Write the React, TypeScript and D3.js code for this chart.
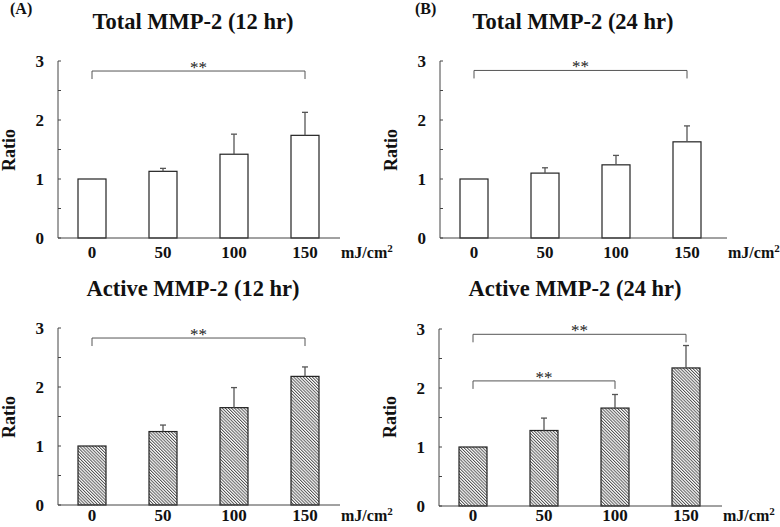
import React from "react";
import * as d3 from "d3";

const doses = ["0", "50", "100", "150"];
const yTicks = [0, 1, 2, 3];
const yMinorTicks = [0.5, 1.5, 2.5];

const totalMMP12 = [1.0, 1.13, 1.42, 1.74];
const totalMMP12Err = [0, 0.05, 0.34, 0.39];
const totalMMP24 = [1.0, 1.1, 1.24, 1.63];
const totalMMP24Err = [0, 0.09, 0.16, 0.27];
const activeMMP12 = [1.0, 1.245, 1.65, 2.18];
const activeMMP12Err = [0, 0.11, 0.34, 0.16];
const activeMMP24 = [1.0, 1.28, 1.66, 2.34];
const activeMMP24Err = [0, 0.21, 0.23, 0.38];

type Sig = { from: string; to: string; level: number; label: string };
const sigTotal12: Sig[] = [{ from: "0", to: "150", level: 2.83, label: "**" }];
const sigTotal24: Sig[] = [{ from: "0", to: "150", level: 2.84, label: "**" }];
const sigActive12: Sig[] = [{ from: "0", to: "150", level: 2.83, label: "**" }];
const sigActive24: Sig[] = [
  { from: "0", to: "150", level: 2.91, label: "**" },
  { from: "0", to: "100", level: 2.12, label: "**" },
];

const FONT = "'Liberation Serif', 'Times New Roman', serif";

type PanelProps = {
  title: string;
  titleX: number;
  titleY: number;
  axisX: number;
  xEnd: number;
  yTop: number;
  yBottom: number;
  values: number[];
  errors: number[];
  sigs: Sig[];
  hatched: boolean;
  ratioY: number;
  labelDy: number;
};

function Panel(p: PanelProps) {
  const y = d3.scaleLinear().domain([0, 3]).range([p.yBottom, p.yTop]);
  const x = d3
    .scalePoint<string>()
    .domain(doses)
    .range([p.axisX + 34, p.axisX + 247]);
  const bw = 28;
  const fill = p.hatched ? "url(#hatch)" : "#fff";
  return (
    <g>
      <text
        x={p.titleX}
        y={p.titleY}
        textAnchor="middle"
        fontFamily={FONT}
        fontWeight="bold"
        fontSize={22.5}
        fill="#111"
      >
        {p.title}
      </text>
      <text
        transform={`translate(${p.axisX - 43},${p.ratioY}) rotate(-90)`}
        textAnchor="middle"
        fontFamily={FONT}
        fontWeight="bold"
        fontSize={18}
        fill="#111"
      >
        Ratio
      </text>
      {/* y axis */}
      <line x1={p.axisX} x2={p.axisX} y1={y(3)} y2={y(0)} stroke="#444" strokeWidth={1} />
      {yTicks.concat(yMinorTicks).map((t) => (
        <line key={"t" + t} x1={p.axisX} x2={p.axisX + 3} y1={y(t)} y2={y(t)} stroke="#444" strokeWidth={1} />
      ))}
      {yTicks.map((t) => (
        <text
          key={"l" + t}
          x={p.axisX - 14}
          y={y(t) + 6}
          textAnchor="end"
          fontFamily={FONT}
          fontWeight="bold"
          fontSize={17}
          fill="#111"
        >
          {t}
        </text>
      ))}
      {/* bars */}
      {doses.map((d, i) => (
        <g key={d}>
          <rect
            x={(x(d) as number) - bw / 2}
            y={y(p.values[i])}
            width={bw}
            height={y(0) - y(p.values[i])}
            fill={fill}
            stroke="#222"
            strokeWidth={1.2}
          />
          {p.errors[i] > 0 && (
            <g stroke="#555" strokeWidth={1.3}>
              <line
                x1={x(d) as number}
                x2={x(d) as number}
                y1={y(p.values[i])}
                y2={y(p.values[i] + p.errors[i])}
              />
              <line
                x1={(x(d) as number) - 3}
                x2={(x(d) as number) + 3}
                y1={y(p.values[i] + p.errors[i])}
                y2={y(p.values[i] + p.errors[i])}
              />
            </g>
          )}
          <text
            x={x(d) as number}
            y={p.yBottom + p.labelDy}
            textAnchor="middle"
            fontFamily={FONT}
            fontWeight="bold"
            fontSize={17}
            fill="#111"
          >
            {d}
          </text>
        </g>
      ))}
      {/* x axis */}
      <line x1={p.axisX} x2={p.xEnd} y1={y(0)} y2={y(0)} stroke="#444" strokeWidth={1} />
      <text
        x={p.xEnd + 1}
        y={p.yBottom + p.labelDy}
        fontFamily={FONT}
        fontWeight="bold"
        fontSize={16}
        fill="#111"
      >
        mJ/cm
        <tspan dy={-6} fontSize={11}>
          2
        </tspan>
      </text>
      {/* significance */}
      {p.sigs.map((s, i) => {
        const x1 = x(s.from) as number;
        const x2 = x(s.to) as number;
        const yy = y(s.level);
        return (
          <g key={"s" + i}>
            <path
              d={`M${x1},${yy + 8}V${yy}H${x2}V${yy + 8}`}
              fill="none"
              stroke="#555"
              strokeWidth={1}
            />
            <text
              x={(x1 + x2) / 2}
              y={yy + 2}
              textAnchor="middle"
              fontFamily={FONT}
              fontSize={17}
              fill="#222"
            >
              {s.label}
            </text>
          </g>
        );
      })}
    </g>
  );
}

export default function App() {
  return (
    <svg
      width={780}
      height={527}
      style={{ position: "absolute", left: 0, top: 0, background: "#fff" }}
    >
      <defs>
        <pattern
          id="hatch"
          patternUnits="userSpaceOnUse"
          width={2.2}
          height={2.2}
          patternTransform="rotate(-45)"
        >
          <rect width={2.2} height={2.2} fill="#fff" />
          <line x1={0.5} x2={0.5} y1={0} y2={2.2} stroke="#444" strokeWidth={0.9} />
        </pattern>
      </defs>
      <rect width={780} height={527} fill="#fff" />
      <text x={10} y={14} fontFamily={FONT} fontWeight="bold" fontSize={16} fill="#111">
        (A)
      </text>
      <text x={415} y={14} fontFamily={FONT} fontWeight="bold" fontSize={16} fill="#111">
        (B)
      </text>
      <Panel
        title="Total MMP-2 (12 hr)"
        titleX={193}
        titleY={29}
        axisX={58}
        xEnd={340}
        yTop={61}
        yBottom={238}
        values={totalMMP12}
        errors={totalMMP12Err}
        sigs={sigTotal12}
        hatched={false}
        ratioY={150}
        labelDy={20}
      />
      <Panel
        title="Total MMP-2 (24 hr)"
        titleX={573}
        titleY={29}
        axisX={440}
        xEnd={727}
        yTop={61}
        yBottom={238}
        values={totalMMP24}
        errors={totalMMP24Err}
        sigs={sigTotal24}
        hatched={false}
        ratioY={150}
        labelDy={20}
      />
      <Panel
        title="Active MMP-2 (12 hr)"
        titleX={193}
        titleY={296}
        axisX={58}
        xEnd={340}
        yTop={328}
        yBottom={505}
        values={activeMMP12}
        errors={activeMMP12Err}
        sigs={sigActive12}
        hatched={true}
        ratioY={417}
        labelDy={16}
      />
      <Panel
        title="Active MMP-2 (24 hr)"
        titleX={575}
        titleY={296}
        axisX={439}
        xEnd={722}
        yTop={329}
        yBottom={506}
        values={activeMMP24}
        errors={activeMMP24Err}
        sigs={sigActive24}
        hatched={true}
        ratioY={417}
        labelDy={15}
      />
    </svg>
  );
}
